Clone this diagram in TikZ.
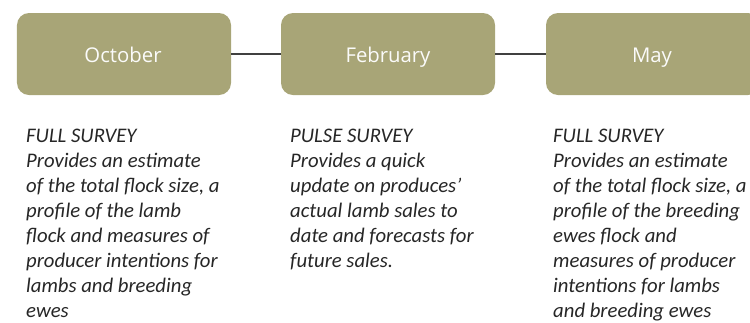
\documentclass[tikz,border=0pt]{standalone}
\usepackage{fontspec}
\setmainfont{Carlito}
\newfontfamily\boxfont{Open Sans}
\definecolor{olive}{HTML}{A8A577}
\definecolor{linkgray}{HTML}{404040}
\definecolor{bodytext}{HTML}{262626}
\begin{document}
\begin{tikzpicture}[x=1bp,y=-1bp,
  monthbox/.style={fill=olive, draw=none, rounded corners=12bp,
    minimum width=214bp, minimum height=82bp, inner sep=0pt},
  monthlabel/.style={anchor=base, inner sep=0pt,
    text=white!96!olive, font=\boxfont\fontsize{20.4}{24}\selectfont},
  link/.style={draw=linkgray, line width=2bp},
  notes/.style={anchor=north west, inner sep=0pt, align=left,
    text=bodytext, font=\itshape\fontsize{20.8}{25.1}\selectfont}]
  \useasboundingbox (0,0) rectangle (750,322);
  \begin{scope}
    \clip (0,0) rectangle (750,322);
    % timeline boxes
    \node[monthbox] (oct) at (124,54) {};
    \node[monthbox] (feb) at (388,54) {};
    \node[monthbox] (may) at (653,54) {};
    \draw[link] (oct) -- (feb);
    \draw[link] (feb) -- (may);
  \end{scope}
  \node[monthlabel] (octlabel) at (123,62) {October};
  \node[monthlabel] (feblabel) at (388,62) {February};
  \node[monthlabel] (maylabel) at (652,62) {May};
  % survey descriptions
  \node[notes] (octnote) at (26,128.8) {FULL SURVEY\\
    Provides an estimate\\
    of the total flock size, a\\
    profile of the lamb\\
    flock and measures of\\
    producer intentions for\\
    lambs and breeding\\
    ewes};
  \node[notes] (febnote) at (290,128.8) {PULSE SURVEY\\
    Provides a quick\\
    update on produces’\\
    actual lamb sales to\\
    date and forecasts for\\
    future sales.};
  \node[notes] (maynote) at (553,128.8) {FULL SURVEY\\
    Provides an estimate\\
    of the total flock size, a\\
    profile of the breeding\\
    ewes flock and\\
    measures of producer\\
    intentions for lambs\\
    and breeding ewes};
\end{tikzpicture}
\end{document}
